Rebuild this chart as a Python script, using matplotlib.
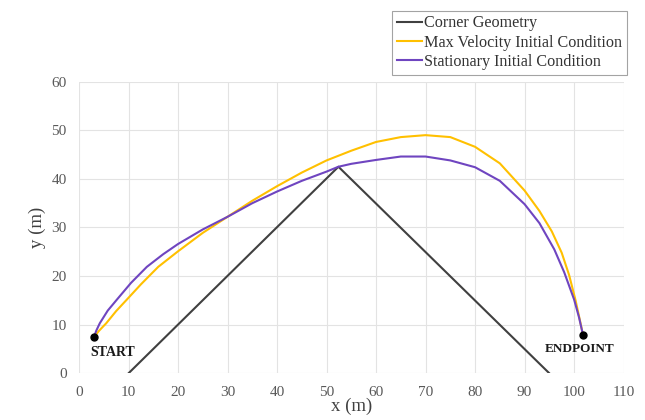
import matplotlib
matplotlib.use("Agg")
import matplotlib.pyplot as plt

# Corner geometry (straight walls meeting at the apex)
corner_x = [10, 52.4, 95]
corner_y = [0, 42.5, 0]

# Max velocity initial condition path
max_vel_x = [3, 4, 5.5, 7.5, 9.6, 12.5, 16, 20, 25, 30, 35, 40, 45, 50, 55,
             60, 65, 70, 75, 80, 85, 90, 93, 95.5, 97.5, 99, 100.3, 101.2,
             101.8]
max_vel_y = [7.4, 8.7, 10.3, 12.8, 15.1, 18.3, 21.9, 25.1, 28.9, 32.2, 35.5,
             38.5, 41.3, 43.8, 45.8, 47.6, 48.6, 49.0, 48.6, 46.6, 43.2, 37.6,
             33.4, 29.2, 24.8, 20.2, 15.0, 10.8, 7.9]

# Stationary initial condition path
stat_x = [3, 3.5, 4.2, 5.8, 7.6, 10.5, 13.7, 17, 20, 25, 30, 35, 40, 45, 50,
          52.4, 55, 60, 65, 70, 75, 80, 85, 90, 93, 96, 98, 100, 101, 101.8]
stat_y = [7.4, 8.8, 10.3, 12.9, 15.1, 18.6, 21.9, 24.5, 26.6, 29.6, 32.2,
          35.0, 37.4, 39.6, 41.5, 42.5, 43.1, 43.9, 44.6, 44.6, 43.8, 42.4,
          39.6, 34.8, 30.9, 25.5, 20.8, 15.2, 11.5, 7.9]

start_pt = (3, 7.4)
end_pt = (101.8, 7.9)

serif = ["Liberation Serif", "DejaVu Serif"]
plt.rcParams["font.family"] = serif

fig = plt.figure(figsize=(6.45, 4.2), dpi=100)
ax = fig.add_axes([0.1225, 0.1112, 0.8443, 0.6943])

ax.plot(corner_x, corner_y, color="#404040", linewidth=1.5,
        label="Corner Geometry")
ax.plot(max_vel_x, max_vel_y, color="#FFC000", linewidth=1.5,
        label="Max Velocity Initial Condition")
ax.plot(stat_x, stat_y, color="#6F45C0", linewidth=1.5,
        label="Stationary Initial Condition")

ax.plot(*start_pt, "o", color="black", markersize=5, zorder=5)
ax.plot(*end_pt, "o", color="black", markersize=5, zorder=5)
ax.text(6.9, 4.2, "START", fontsize=10, fontweight="bold",
        ha="center", va="center", color="#1a1a1a")
ax.text(101.2, 4.9, "ENDPOINT", fontsize=9.5, fontweight="bold",
        ha="center", va="center", color="#1a1a1a")

ax.set_xlim(0, 110)
ax.set_ylim(0, 60)
ax.set_xticks(range(0, 111, 10))
ax.set_yticks(range(0, 61, 10))
ax.grid(True, color="#e3e3e3", linewidth=0.8)
ax.set_axisbelow(True)
for s in ax.spines.values():
    s.set_visible(False)
ax.tick_params(length=0, labelsize=11, labelcolor="#595959")
ax.tick_params(axis="x", pad=9)
ax.tick_params(axis="y", pad=9)

ax.set_xlabel("x (m)", fontsize=13.5, color="#404040", labelpad=-1)
ax.set_ylabel("y (m)", fontsize=13.5, color="#404040", labelpad=4)

leg = fig.legend(loc="upper right", bbox_to_anchor=(0.972, 0.975),
                 fontsize=11.6, frameon=True, fancybox=False,
                 handlelength=1.6, handletextpad=0.1, labelspacing=0.2,
                 borderpad=0.3, borderaxespad=0)
leg.get_frame().set_edgecolor("#8c8c8c")
leg.get_frame().set_linewidth(0.8)
for t in leg.get_texts():
    t.set_color("#333333")

fig.savefig("out.png", dpi=100)
